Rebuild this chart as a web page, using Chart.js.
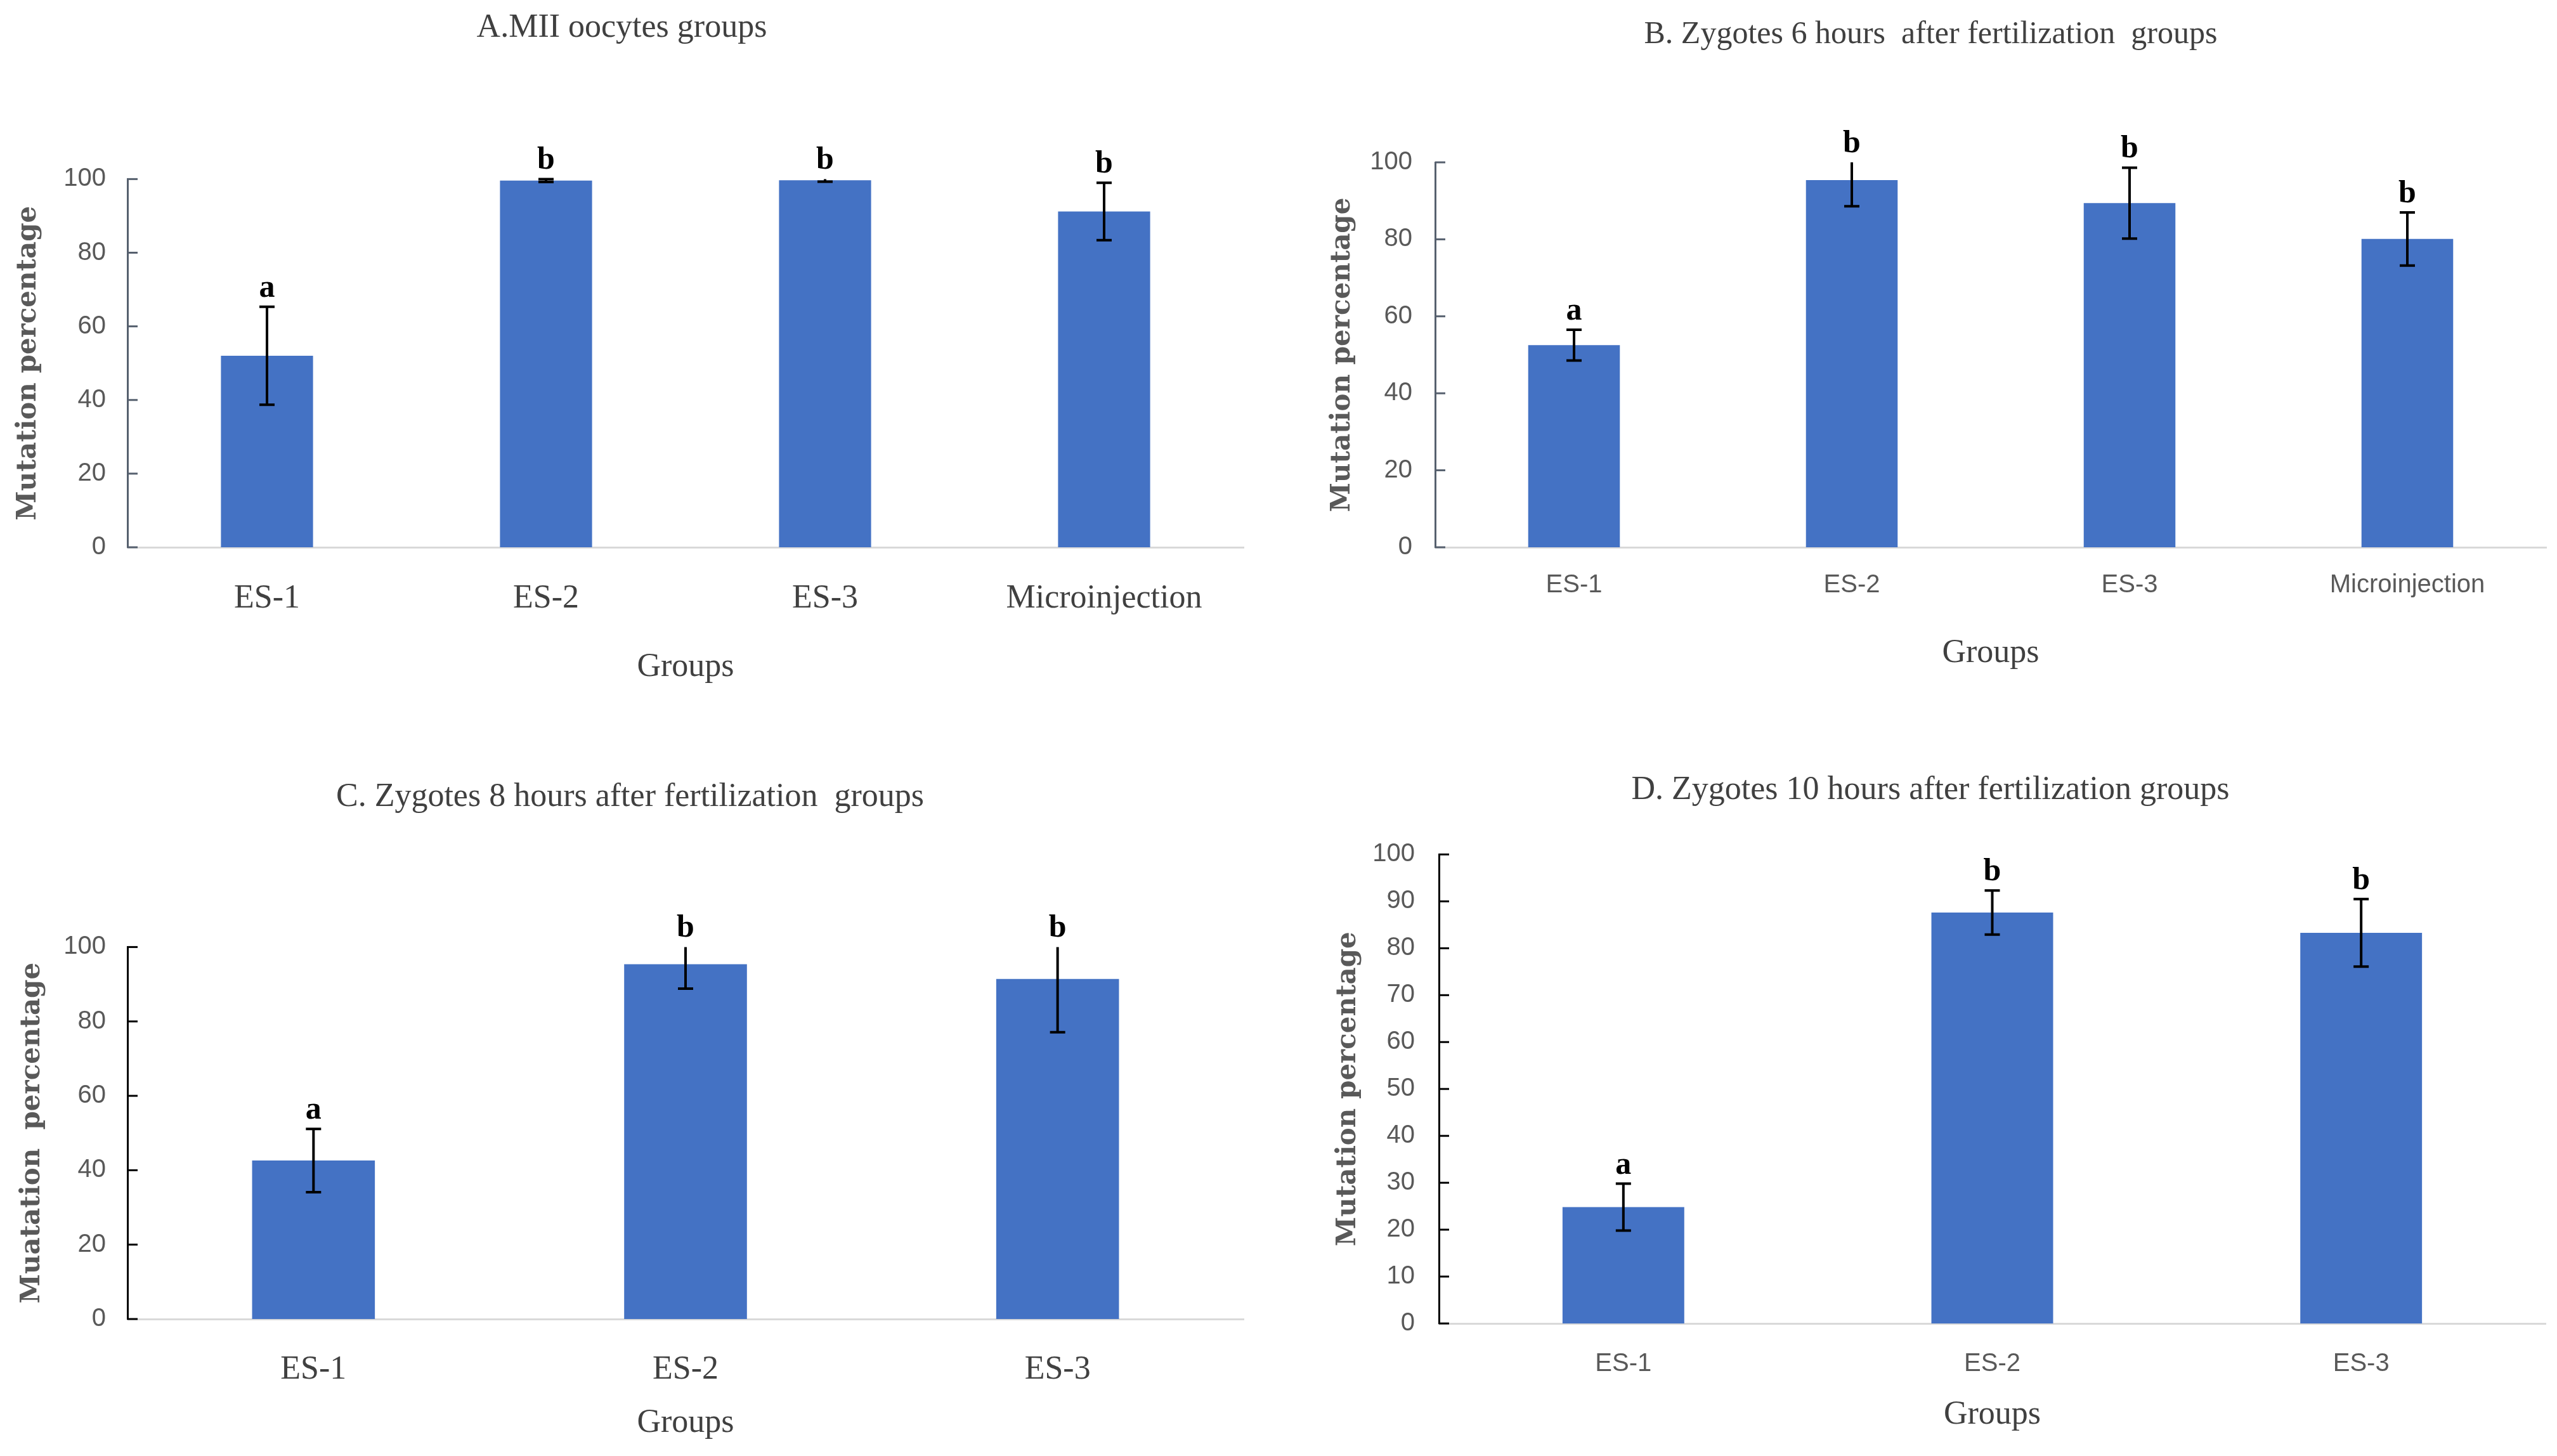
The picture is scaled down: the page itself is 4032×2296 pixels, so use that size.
<!DOCTYPE html>
<html>
<head>
<meta charset="utf-8">
<script src="https://cdn.jsdelivr.net/npm/chart.js@4.4.1/dist/chart.umd.min.js"></script>
<style>
body{margin:0;background:#fff;width:4032px;height:2296px;position:relative;overflow:hidden;}
canvas{position:absolute;}
</style>
</head>
<body>
<canvas id="chartA" width="2000" height="1150" style="left:0;top:0;"></canvas>
<canvas id="chartB" width="2032" height="1150" style="left:2000px;top:0;"></canvas>
<canvas id="chartC" width="2000" height="1146" style="left:0;top:1150px;"></canvas>
<canvas id="chartD" width="2032" height="1146" style="left:2000px;top:1150px;"></canvas>
<script>
// panel A - MII oocytes
const groupsA = ['ES-1','ES-2','ES-3','Microinjection'];
const valuesA = [52.0, 99.6, 99.7, 91.2];
const errorsA = [13.3, 0.4, 0.4, 7.8];
const lettersA = ['a','b','b','b'];

// panel B - zygotes 6 h
const groupsB = ['ES-1','ES-2','ES-3','Microinjection'];
const valuesB = [52.5, 95.4, 89.4, 80.1];
const errorsB = [4.0, 6.8, 9.2, 6.9];
const lettersB = ['a','b','b','b'];

// panel C - zygotes 8 h
const groupsC = ['ES-1','ES-2','ES-3'];
const valuesC = [42.6, 95.4, 91.4];
const errorsC = [8.5, 6.6, 14.3];
const lettersC = ['a','b','b'];

// panel D - zygotes 10 h
const groupsD = ['ES-1','ES-2','ES-3'];
const valuesD = [24.8, 87.6, 83.3];
const errorsD = [5.0, 4.7, 7.2];
const lettersD = ['a','b','b'];

const yTicksABC = [0,20,40,60,80,100];
const yTicksD = [0,10,20,30,40,50,60,70,80,90,100];

const serif = '"Liberation Serif", "Times New Roman", serif';
const sans = '"Liberation Sans", Arial, sans-serif';

const errorBars = {
    id: 'errorBars',
    afterDatasetsDraw(chart, args, opts){
        let ctx = chart.ctx;
        let meta = chart.getDatasetMeta(0);
        let y = chart.scales.y;
        let area = chart.chartArea;
        let vals = chart.data.datasets[0].data;
        ctx.save();
        ctx.strokeStyle = '#000';
        ctx.lineWidth = 4;
        for(let i=0;i<meta.data.length;i++){
            let x = meta.data[i].x;
            let top = y.getPixelForValue(vals[i] + opts.errors[i]);
            let bot = y.getPixelForValue(vals[i] - opts.errors[i]);
            let topC = Math.max(top, area.top);
            ctx.beginPath();
            ctx.moveTo(x, topC);
            ctx.lineTo(x, bot);
            if(top >= area.top){
                ctx.moveTo(x-12, top);
                ctx.lineTo(x+12, top);
            }
            ctx.moveTo(x-12, bot);
            ctx.lineTo(x+12, bot);
            ctx.stroke();
            ctx.fillStyle = '#000';
            ctx.font = 'bold 50px ' + serif;
            ctx.textAlign = 'center';
            ctx.textBaseline = 'alphabetic';
            ctx.fillText(opts.letters[i], x, topC - 16);
        }
        ctx.restore();
    }
};

// small tick marks on the inside of the y axis
const innerTicks = {
    id: 'innerTicks',
    afterDraw(chart, args, opts){
        let ctx = chart.ctx;
        let y = chart.scales.y;
        let left = chart.chartArea.left;
        ctx.save();
        ctx.strokeStyle = opts.color;
        ctx.lineWidth = 3;
        y.ticks.forEach(t => {
            let py = y.getPixelForValue(t.value);
            ctx.beginPath();
            ctx.moveTo(left, py);
            ctx.lineTo(left + 16, py);
            ctx.stroke();
        });
        ctx.restore();
    }
};

function makeChart(id, p){
    const ctx = document.getElementById(id).getContext('2d');
    return new Chart(ctx, {
        type: 'bar',
        data: {
            labels: p.groups,
            datasets: [{
                data: p.values,
                backgroundColor: '#4472C4',
                borderWidth: 0,
                categoryPercentage: 1,
                barPercentage: 0.33
            }]
        },
        options: {
            responsive: false,
            animation: false,
            devicePixelRatio: 1,
            layout: { padding: { left: p.padLeft, right: p.padRight, top: 0, bottom: 0 } },
            plugins: {
                legend: { display: false },
                tooltip: { enabled: false },
                title: {
                    display: true,
                    text: p.title,
                    color: '#404040',
                    font: { family: serif, size: p.titleSize, weight: 'normal', lineHeight: 1.2 },
                    padding: { top: p.titleTop, bottom: p.titleBottom }
                },
                errorBars: { errors: p.errors, letters: p.letters },
                innerTicks: { color: p.axisColor }
            },
            scales: {
                x: {
                    grid: { display: false, drawTicks: false },
                    border: { display: true, color: '#D9D9D9', width: 3 },
                    ticks: { color: p.xTickColor, font: p.xTickFont, padding: p.xTickPad, maxRotation: 0 },
                    title: {
                        display: true, text: 'Groups', color: '#404040',
                        font: { family: serif, size: 52, lineHeight: 1.2 },
                        padding: { top: 0, bottom: p.groupsPad }
                    },
                    afterFit: s => { s.height = p.xHeight; }
                },
                y: {
                    min: 0,
                    max: 100,
                    afterBuildTicks: s => { s.ticks = p.yTicks.map(v => ({ value: v })); },
                    grid: { display: false, drawTicks: false },
                    border: { display: true, color: p.axisColor, width: 3 },
                    ticks: { color: '#595959', font: { family: sans, size: 40 }, padding: p.yTickPad },
                    title: {
                        display: true, text: p.yTitle, color: '#595959',
                        font: { family: '"DejaVu Serif", serif', size: 42, weight: 'bold', lineHeight: 1.2 },
                        padding: { top: p.yTitlePad, bottom: 0 }
                    },
                    afterFit: s => { s.width = p.yWidth; }
                }
            }
        },
        plugins: [errorBars, innerTicks]
    });
}

window.onload = function(){
    makeChart('chartA', {
        groups: groupsA, values: valuesA, errors: errorsA, letters: lettersA, yTicks: yTicksABC,
        title: 'A.MII oocytes groups', titleSize: 52, titleTop: 13, titleBottom: 207,
        yTitle: 'Mutation percentage', yTitlePad: 20, yWidth: 201, yTickPad: 34, padLeft: 0,
        xHeight: 287, xTickPad: 50, groupsPad: 66, padRight: 39,
        xTickColor: '#404040', xTickFont: { family: serif, size: 52 }, axisColor: '#56606e'
    });
    makeChart('chartB', {
        groups: groupsB, values: valuesB, errors: errorsB, letters: lettersB, yTicks: yTicksABC,
        title: 'B. Zygotes 6 hours  after fertilization  groups', titleSize: 50, titleTop: 25, titleBottom: 171,
        yTitle: 'Mutation percentage', yTitlePad: 18, yWidth: 189, yTickPad: 36, padLeft: 74,
        xHeight: 287, xTickPad: 36, groupsPad: 88, padRight: 17,
        xTickColor: '#595959', xTickFont: { family: sans, size: 40 }, axisColor: '#56606e'
    });
    makeChart('chartC', {
        groups: groupsC, values: valuesC, errors: errorsC, letters: lettersC, yTicks: yTicksABC,
        title: 'C. Zygotes 8 hours after fertilization  groups', titleSize: 52, titleTop: 76, titleBottom: 205,
        yTitle: 'Muatation  percentage', yTitlePad: 0, yWidth: 175, yTickPad: 34, padLeft: 26,
        xHeight: 216, xTickPad: 49, groupsPad: 20, padRight: 39,
        xTickColor: '#404040', xTickFont: { family: serif, size: 52 }, axisColor: '#000000'
    });
    makeChart('chartD', {
        groups: groupsD, values: valuesD, errors: errorsD, letters: lettersD, yTicks: yTicksD,
        title: 'D. Zygotes 10 hours after fertilization groups', titleSize: 52, titleTop: 65, titleBottom: 70,
        yTitle: 'Mutation percentage', yTitlePad: 27, yWidth: 195, yTickPad: 38, padLeft: 74,
        xHeight: 209, xTickPad: 40, groupsPad: 33, padRight: 18,
        xTickColor: '#595959', xTickFont: { family: sans, size: 40 }, axisColor: '#000000'
    });
}
</script>
</body>
</html>
